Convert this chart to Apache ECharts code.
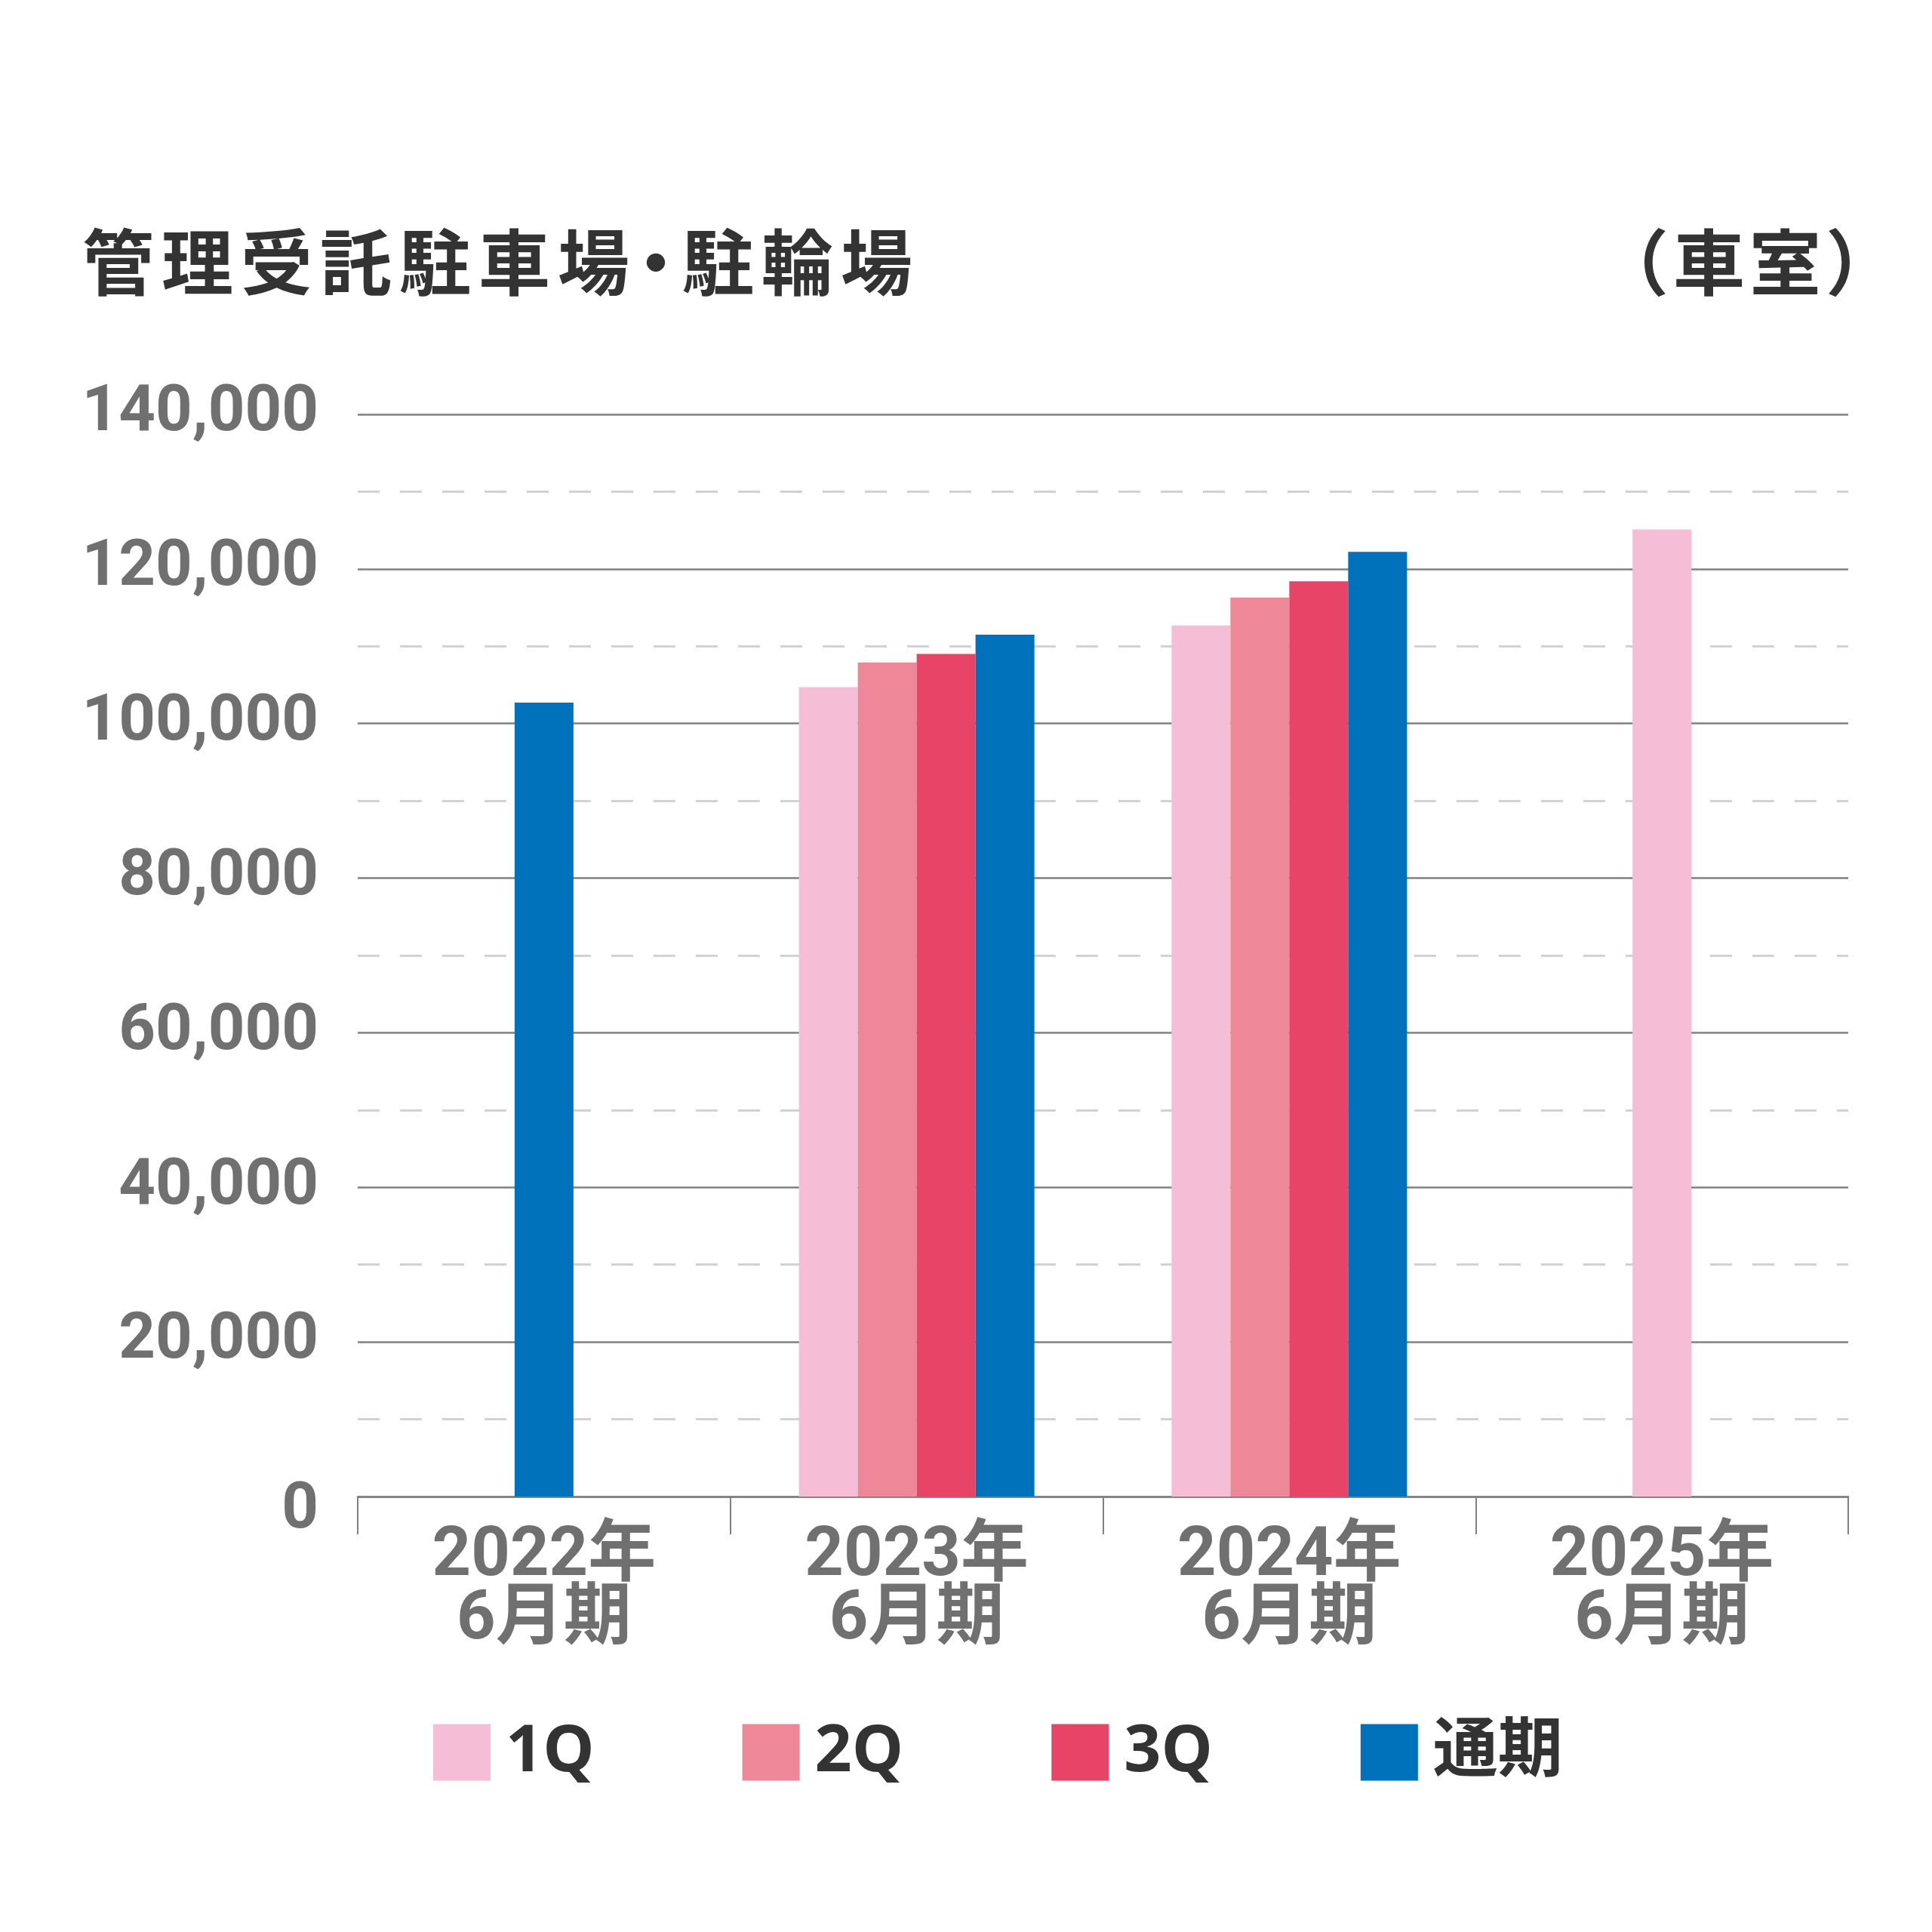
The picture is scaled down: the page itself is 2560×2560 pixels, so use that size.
<!DOCTYPE html>
<html>
<head>
<meta charset="utf-8">
<script src="https://cdn.jsdelivr.net/npm/echarts@6/dist/echarts.min.js"></script>
<style>
html,body{margin:0;padding:0;background:#fff;}
#chart{width:2560px;height:2560px;}
</style>
</head>
<body>
<div id="chart"></div>
<script>
// ---- data ----
var categories = ['2022年\n6月期', '2023年\n6月期', '2024年\n6月期', '2025年\n6月期'];
var seriesNames = ['1Q', '2Q', '3Q', '通期'];
var q1Values   = [null, 104700, 112700, 125100];
var q2Values   = [null, 107900, 116300, null];
var q3Values   = [null, 109000, 118400, null];
var fullValues = [102700, 111500, 122200, null];
var yTicks = [0, 20000, 40000, 60000, 80000, 100000, 120000, 140000];
var titleText = '管理受託駐車場・駐輪場';
var unitText = '（車室）';

var colors = {'1Q': '#f6bed6', '2Q': '#ee8899', '3Q': '#e84467', '通期': '#0071bb'};
var valueSets = [q1Values, q2Values, q3Values, fullValues];

// categories with more than one value are drawn as a group; others as a single centred bar
var grouped = categories.map(function (c, i) {
  var n = 0;
  valueSets.forEach(function (v) { if (v[i] != null) n++; });
  return n > 1;
});

var FONT = "Roboto, 'Noto Sans CJK JP', sans-serif";
var series = [];
seriesNames.forEach(function (name, k) {
  series.push({
    name: name, type: 'bar', xAxisIndex: 0, barWidth: 78, barGap: '0%',
    itemStyle: {color: colors[name]},
    data: valueSets[k].map(function (v, i) { return grouped[i] ? v : null; })
  });
});
seriesNames.forEach(function (name, k) {
  var d = valueSets[k].map(function (v, i) { return grouped[i] ? null : v; });
  if (d.some(function (v) { return v != null; })) {
    series.push({
      name: name, type: 'bar', xAxisIndex: 1, stack: 'single', barWidth: 78,
      itemStyle: {color: colors[name]},
      data: d
    });
  }
});

// spaced heading text (rich tokens per character)
function spaced(str, tok) {
  return str.split('').map(function (ch) {
    return (ch === '・' ? '{d|' : '{' + tok + '|') + ch + '}';
  }).join('');
}
var headStyle = {fontFamily: "'Noto Sans CJK JP'", fontSize: 95, fontWeight: 'bold', color: '#333333'};
var headRich = {
  c: Object.assign({width: 105, align: 'center'}, headStyle),
  u: Object.assign({width: 101, align: 'center'}, headStyle),
  d: Object.assign({width: 60, align: 'center'}, headStyle)
};

var chart = echarts.init(document.getElementById('chart'), null, {renderer: 'canvas'});
chart.setOption({
  backgroundColor: '#fff',
  animation: false,
  title: [
    {text: spaced(titleText, 'c'), left: 104, top: 300, padding: 0,
     textStyle: Object.assign({rich: headRich}, headStyle)},
    {text: spaced(unitText, 'u'), right: 49, top: 300, padding: 0,
     textStyle: Object.assign({rich: headRich}, headStyle)}
  ],
  legend: {
    data: seriesNames, left: 569, top: 2274, icon: 'rect',
    itemWidth: 76, itemHeight: 75, itemGap: 196,
    textStyle: {fontFamily: "'Open Sans', 'Noto Sans CJK JP', sans-serif", fontSize: 86,
                fontWeight: 'bold', color: '#333333', padding: [0, 0, 0, 15]}
  },
  grid: {left: 474, right: 111, top: 549, bottom: 577, containLabel: false},
  xAxis: [
    {type: 'category', data: categories,
     axisLine: {show: true, lineStyle: {color: '#808080', width: 2.5}},
     axisTick: {show: true, length: 50, lineStyle: {color: '#808080', width: 2}},
     axisLabel: {fontFamily: FONT, fontSize: 90, lineHeight: 84, fontWeight: 'bold',
                 color: '#707070', margin: 39},
     splitLine: {show: false}},
    {type: 'category', data: categories, show: false}
  ],
  yAxis: {
    type: 'value', min: yTicks[0], max: yTicks[yTicks.length - 1],
    interval: yTicks[1] - yTicks[0],
    axisLine: {show: false}, axisTick: {show: false},
    minorTick: {show: false, splitNumber: 2},
    minorSplitLine: {show: true, lineStyle: {color: '#d2d2d2', width: 3, type: [29, 27]}},
    splitLine: {show: true, lineStyle: {color: '#808080', width: 2.5}},
    axisLabel: {
      fontFamily: FONT, fontSize: 85, fontWeight: 'bold', color: '#707070', margin: 52,
      formatter: function (v) {
        return v === 0 ? '{z|0}' : v.toLocaleString('en-US');
      },
      rich: {z: {fontFamily: FONT, fontSize: 85, fontWeight: 'bold', color: '#707070',
                 padding: [40, 0, 0, 0]}}
    }
  },
  series: series
});
</script>
</body>
</html>
